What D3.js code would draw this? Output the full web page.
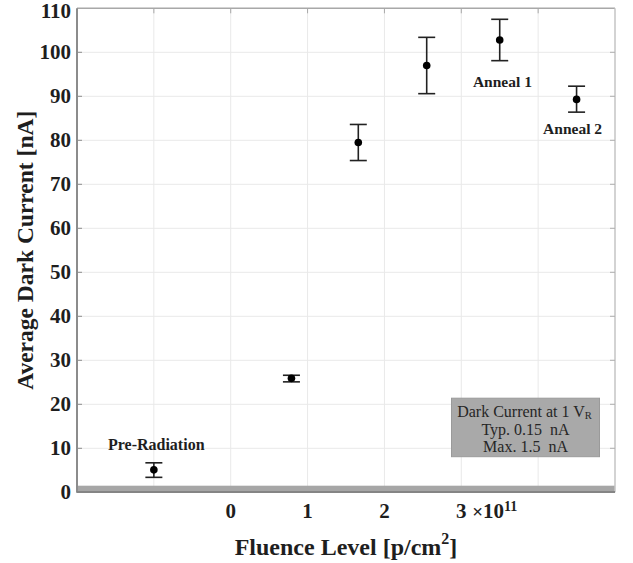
<!DOCTYPE html>
<html>
<head>
<meta charset="utf-8">
<script src="https://cdn.jsdelivr.net/npm/d3@7"></script>
<style>
  html, body { margin: 0; padding: 0; background: #fff; }
  svg { display: block; }
  text { font-family: "Liberation Serif", "Times New Roman", serif; white-space: pre; }
</style>
</head>
<body>
<svg id="chart" width="633" height="563"></svg>
<script>
// Measurement stages along the x axis (fluence in units of 1e11 p/cm^2;
// pre-radiation and anneal steps are placed outside the 0..3 range)
const stages   = ["Pre-Radiation", "Dose 1", "Dose 2", "Dose 3", "Anneal 1", "Anneal 2"];
const xPos     = [-1.0, 0.79, 1.66, 2.55, 3.5, 4.5];
// Average dark current [nA] with error-bar limits
const meanNA   = [5.1, 25.9, 79.5, 97.0, 102.8, 89.3];
const upperNA  = [6.7, 26.6, 83.6, 103.4, 107.5, 92.3];
const lowerNA  = [3.4, 25.1, 75.4, 90.6, 98.1, 86.4];
// Stages that carry a text label
const labelled = ["Pre-Radiation", "Anneal 1", "Anneal 2"];

// Axis ticks
const yTicks      = [0, 10, 20, 30, 40, 50, 60, 70, 80, 90, 100, 110];
const xGridTicks  = [-1, 0, 1, 2, 3, 4];
const xLabelTicks = [0, 1, 2, 3];

// Datasheet spec for the dark current at 1 V reverse bias
const specTyp = 0.15;
const specMax = 1.5;
const specLines = ["Dark Current at 1 V", "Typ. " + specTyp + "  nA", "Max. " + specMax + "  nA"];

const svg = d3.select("#chart");
const W = 633, H = 563;
const margin = { left: 77, right: 18, top: 8.3, bottom: 70.7 };
const x0 = margin.left, x1 = W - margin.right;
const y0 = H - margin.bottom, y1 = margin.top;

const x = d3.scaleLinear().domain([-2, 5]).range([x0, x1]);
const y = d3.scaleLinear().domain([0, 110]).range([y0, y1]);

const ink = "#1e1e1e";

// Grid
const grid = svg.append("g").attr("stroke", "#e9e9e9").attr("stroke-width", 1);
grid.selectAll("line.v").data(xGridTicks).join("line")
  .attr("x1", d => x(d)).attr("x2", d => x(d))
  .attr("y1", y1).attr("y2", y0);
grid.selectAll("line.h").data(yTicks.slice(1, -1)).join("line")
  .attr("x1", x0).attr("x2", x1)
  .attr("y1", d => y(d)).attr("y2", d => y(d));

// Spec band (0 .. max spec)
svg.append("rect")
  .attr("x", x0).attr("width", x1 - x0)
  .attr("y", y(specMax)).attr("height", y(0) - y(specMax))
  .attr("fill", "#a6a6a6");

// Frame (box) with inward ticks
const frame = svg.append("g").attr("fill", "none");
frame.append("line").attr("x1", x0).attr("x2", x1).attr("y1", y1).attr("y2", y1)
  .attr("stroke", "#a8a8a8").attr("stroke-width", 1.5);
frame.append("line").attr("x1", x1).attr("x2", x1).attr("y1", y1).attr("y2", y0)
  .attr("stroke", "#c4c4c4").attr("stroke-width", 1.5);
frame.append("line").attr("x1", x0).attr("x2", x0).attr("y1", y1).attr("y2", y0 + 0.5)
  .attr("stroke", "#8c8c8c").attr("stroke-width", 2);
frame.append("line").attr("x1", x0).attr("x2", x1).attr("y1", y0 - 0.3).attr("y2", y0 - 0.3)
  .attr("stroke", "#858585").attr("stroke-width", 2);

const tickLen = 5;
frame.selectAll("line.tt").data(xGridTicks).join("line")
  .attr("x1", d => x(d)).attr("x2", d => x(d)).attr("y1", y1).attr("y2", y1 + tickLen)
  .attr("stroke", "#a8a8a8").attr("stroke-width", 1);
frame.selectAll("line.tl").data(yTicks.slice(1, -1)).join("line")
  .attr("x1", x0).attr("x2", x0 + tickLen).attr("y1", d => y(d)).attr("y2", d => y(d))
  .attr("stroke", "#8c8c8c").attr("stroke-width", 1);
frame.selectAll("line.tr").data(yTicks.slice(1, -1)).join("line")
  .attr("x1", x1).attr("x2", x1 - tickLen).attr("y1", d => y(d)).attr("y2", d => y(d))
  .attr("stroke", "#b0b0b0").attr("stroke-width", 1);

// Y tick labels (the top one is nudged down to stay inside the canvas)
svg.append("g").selectAll("text").data(yTicks).join("text")
  .attr("x", x0 - 6).attr("y", d => Math.max(y(d), 11))
  .attr("text-anchor", "end").attr("dominant-baseline", "central")
  .attr("font-size", 21).attr("font-weight", "bold").attr("fill", ink)
  .text(d => d);

// X tick labels; the last one carries the 1e11 multiplier
const xl = svg.append("g");
xl.selectAll("text").data(xLabelTicks).join("text")
  .attr("x", d => x(d)).attr("y", y0 + 19)
  .attr("text-anchor", "middle").attr("dominant-baseline", "central")
  .attr("font-size", 21).attr("font-weight", "bold").attr("fill", ink)
  .each(function(d, i) {
    const t = d3.select(this);
    t.text(d);
    if (i === xLabelTicks.length - 1) {
      t.append("tspan").attr("font-size", 19).text(" \u00d7").attr("dx", 1);
      t.append("tspan").text("10");
      t.append("tspan").attr("font-size", 14).attr("dy", -5).text("11");
    }
  });
// keep the leading digit centred on its tick
xl.selectAll("text").filter((d, i) => i === xLabelTicks.length - 1)
  .attr("text-anchor", "start").attr("x", d => x(d) - 5.3);

// Axis titles
const xt = svg.append("text")
  .attr("x", (x0 + x1) / 2).attr("y", 547)
  .attr("text-anchor", "middle").attr("dominant-baseline", "central")
  .attr("font-size", 24).attr("font-weight", "bold").attr("fill", ink);
xt.append("tspan").text("Fluence Level [p/cm");
xt.append("tspan").attr("font-size", 16).attr("dy", -9).text("2");
xt.append("tspan").attr("dy", 9).text("]");

svg.append("text")
  .attr("transform", `translate(25,${(y0 + y1) / 2}) rotate(-90)`)
  .attr("text-anchor", "middle").attr("dominant-baseline", "central")
  .attr("font-size", 23.5).attr("font-weight", "bold").attr("fill", ink)
  .text("Average Dark Current [nA]");

// Spec note box
const boxW = 148, boxH = 58.5;
const bx = x1 - 15.5 - boxW, by = y0 - 35.6 - boxH;
svg.append("rect").attr("x", bx).attr("y", by).attr("width", boxW).attr("height", boxH)
  .attr("fill", "#a9a9a9").attr("stroke", "#9a9a9a").attr("stroke-width", 1);
const note = svg.append("g").attr("font-size", 16).attr("fill", "#262626")
  .attr("text-anchor", "middle");
specLines.forEach((s, i) => {
  const t = note.append("text")
    .attr("x", bx + boxW / 2 - (i === 0 ? 1 : 0)).attr("y", by + 13.5 + i * 17.5)
    .attr("dominant-baseline", "central").text(s);
  if (i === 0) t.append("tspan").attr("font-size", 10.5).attr("dy", 3).text("R");
});

// Error bars and markers
const pts = stages.map((s, i) => ({ s, x: xPos[i], m: meanNA[i], hi: upperNA[i], lo: lowerNA[i] }));
const capW = 8.5;
const eb = svg.append("g").attr("stroke", "#222").attr("stroke-width", 1.6);
eb.selectAll("line.v").data(pts).join("line")
  .attr("x1", d => x(d.x)).attr("x2", d => x(d.x))
  .attr("y1", d => y(d.hi)).attr("y2", d => y(d.lo));
eb.selectAll("line.hi").data(pts).join("line")
  .attr("x1", d => x(d.x) - capW).attr("x2", d => x(d.x) + capW)
  .attr("y1", d => y(d.hi)).attr("y2", d => y(d.hi));
eb.selectAll("line.lo").data(pts).join("line")
  .attr("x1", d => x(d.x) - capW).attr("x2", d => x(d.x) + capW)
  .attr("y1", d => y(d.lo)).attr("y2", d => y(d.lo));
svg.append("g").selectAll("circle").data(pts).join("circle")
  .attr("cx", d => x(d.x)).attr("cy", d => y(d.m)).attr("r", 3.8)
  .attr("fill", "#000");

// Stage labels (above the first point, below the anneal points)
const labelOffset = {
  "Pre-Radiation": [2.4, -25],
  "Anneal 1": [2.7, 41.7],
  "Anneal 2": [-4, 29]
};
svg.append("g").selectAll("text").data(pts.filter(d => labelled.includes(d.s))).join("text")
  .attr("x", d => x(d.x) + labelOffset[d.s][0])
  .attr("y", d => y(d.m) + labelOffset[d.s][1])
  .attr("text-anchor", "middle").attr("dominant-baseline", "central")
  .attr("font-size", d => d.s === "Pre-Radiation" ? 16 : 15.5)
  .attr("font-weight", "bold").attr("fill", ink)
  .text(d => d.s);
</script>
</body>
</html>
